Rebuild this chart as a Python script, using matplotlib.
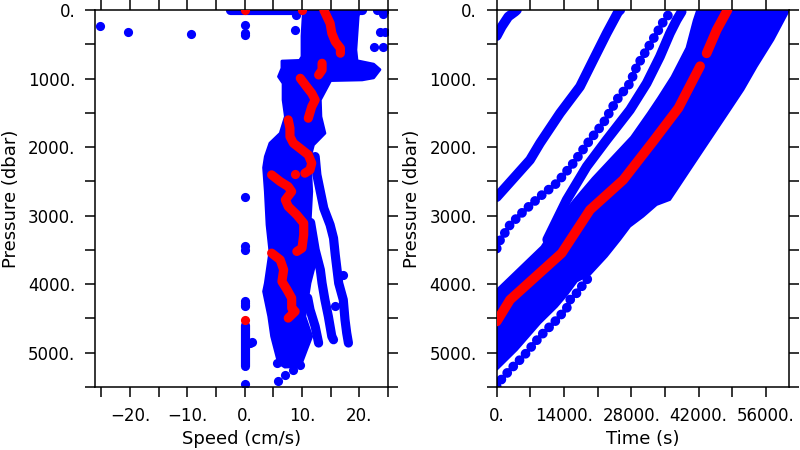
import numpy as np
import matplotlib
matplotlib.use("Agg")
import matplotlib.pyplot as plt
from matplotlib.ticker import MultipleLocator, FuncFormatter

nan = np.nan

# ---------------- left panel: speed vs pressure ----------------
# outline of the dense blue cloud (left edge going down, right edge going up)
cloud_l_spd = [10.3, 10.0, 10.0, 9.6, 6.5, 6.5, 5.9, 6.7, 6.7, 7.1, 6.2, 4.4, 3.6, 3.3,
               3.6, 3.9, 4.4, 3.6, 3.3, 4.2, 4.7, 5.3, 5.9, 7.0]
cloud_l_p = [-60, 380, 680, 735, 745, 850, 972, 1070, 1312, 1555, 1798, 1943, 2138, 2300,
             2649, 3134, 3523, 3985, 4106, 4471, 4762, 4956, 5150, 5210]
cloud_r_spd = [9.7, 10.8, 11.7, 10.5, 11.4, 12.6, 12.6, 11.4, 11.7, 11.4, 12.0, 12.3, 14.0,
               13.3, 13.2, 15.0, 20.5, 22.5, 23.6, 22.5, 19.6, 19.4, 19.6, 19.8, 20.2]
cloud_r_p = [5200, 4956, 4762, 4471, 3985, 3596, 3523, 3134, 2649, 2162, 1968, 1943, 1798,
             1555, 1312, 1030, 1020, 990, 870, 790, 740, 583, 340, 97, -60]

# surface band of points
top_spd = [-2.5, 20.5]
top_p = [0, 0]

# deep streaks to the right of the cloud
streak_a_spd = [12.3, 12.6, 13.2, 13.8, 14.9, 15.5, 15.8, 16.4, 17.2, 17.5, 17.8, 18.1]
streak_a_p = [2138, 2405, 2649, 2892, 3134, 3329, 3572, 3985, 4228, 4519, 4713, 4859]
streak_b_spd = [11.5, 12.3, 13.2, 13.5, 14.0, 14.6, 15.2, 15.5]
streak_b_p = [3100, 3499, 3790, 3985, 4228, 4471, 4762, 4811]
streak_c_spd = [11.0, 11.4, 12.3, 12.9]
streak_c_p = [4200, 4373, 4617, 4859]

# zero-speed column at depth
col0_spd = [0, 0]
col0_p = [4590, 5200]

# isolated points
iso_spd = [-25.2, -20.3, -9.4, 0, 0, 0, 9.0, 8.8, 23.1, 24.4, 24.1, 23.6, 24.4, 22.5, 24.2,
           0, 0, 0, 0, 0, 0, 0, 1.0, 1.2, 0, 5.9, 7.1, 8.5, 9.7, 5.6, 17.2, 15.8]
iso_p = [233, 316, 345, 219, 340, 364, 73, 292, 0, 0, 58, 316, 316, 535, 535,
         2721, 3450, 3499, 4252, 4276, 4300, 4325, 4859, 4850, 5456, 5409, 5331, 5258, 5175,
         5150, 3863, 4325]

# red mean profile (segments separated by nan)
red_spd = [13.8, 14.9, 15.2, 15.8, 16.7, 16.7, nan,
           13.5, 13.5, 12.9, nan,
           9.7, 10.8, 11.7, 12.3, 11.7, 11.1, nan,
           7.6, 7.9, 7.9, 8.5, 10.0, 11.1, 11.7, 11.4, 10.5, nan,
           4.7, 6.2, 7.6, 8.2, 7.1, 7.6, 9.1, 10.3, 10.3, 10.0, 9.1, nan,
           4.7, 6.2, 6.8, 6.5, 7.4, 8.2, 8.2, 8.8, 7.6]
red_p = [0, 194, 340, 461, 558, 631, nan,
         777, 875, 948, nan,
         996, 1118, 1215, 1312, 1410, 1579, nan,
         1603, 1725, 1847, 1943, 2041, 2114, 2235, 2332, 2381, nan,
         2405, 2503, 2576, 2649, 2770, 2867, 2989, 3110, 3280, 3474, 3523, nan,
         3547, 3645, 3790, 3961, 4082, 4203, 4349, 4398, 4495]
red_dot_spd = [0, 10, 0, 8.8]
red_dot_p = [0, 0, 4519, 2395]

# ---------------- right panel: time vs pressure ----------------
mass_t = [0, 9355, 13000, 16000, 20000, 24000, 28000, 31500, 33600, 36400, 39500, 41000, 42000,
          61000, 60630, 57507, 54054, 51272, 48507, 45739, 42952, 40187, 37422, 36029, 33264,
          30479, 27713, 25634, 22869, 19397, 16632, 14553, 12474, 9002, 4158, 0]
mass_p = [4082, 3450, 3050, 2780, 2450, 2150, 1850, 1500, 1280, 972, 550, 150, -60,
          -60, 25, 437, 826, 1166, 1458, 1749, 2041, 2332, 2624, 2770, 2843,
          3013, 3159, 3353, 3596, 3860, 3960, 4160, 4330, 4570, 4960, 5248]

l1_t = [0, 6923, 9002, 13160, 17318, 20083, 22869, 25281, 25700]
l1_p = [2730, 2187, 1943, 1506, 1118, 729, 340, 25, 0]
l2_t = [0, 333, 2765, 5530, 9002, 12474, 15925, 19397, 22162, 24948, 27713, 29106, 31185,
        33264, 34658, 35677, 36300]
l2_p = [3480, 3400, 3134, 2940, 2721, 2527, 2235, 1895, 1652, 1312, 1069, 826, 583,
        340, 170, 73, 0]
l3_t = [10500, 14553, 18711, 22869, 27713, 31185, 33950, 36029, 37422, 38462]
l3_p = [3350, 2770, 2284, 1895, 1458, 1069, 680, 340, 146, 25]
l4_t = [0, 333, 2765, 5530, 9002, 12474, 14553, 15246, 16632, 18711, 19400]
l4_p = [5500, 5442, 5248, 5054, 4762, 4519, 4349, 4228, 4130, 3936, 3888]
l5_t = [0, 1040, 2412, 3805, 4200]
l5_p = [380, 243, 97, 25, 0]

red1_t = [0, 2765, 13513, 19397, 26320, 32500, 37800, 42300]
red1_p = [4544, 4228, 3547, 2916, 2478, 1920, 1430, 820]
red2_t = [43659, 45739, 48000]
red2_p = [632, 292, 0]

blue = (0, 0, 1)
red = (1, 0, 0)

fig = plt.figure(figsize=(8, 4.5), dpi=100)
ax1 = fig.add_axes([0.11875, 0.14, 0.36625, 0.8378])
ax2 = fig.add_axes([0.6209, 0.14, 0.3654, 0.8378])

dot = 6.6
band = 7.0
line_kw = dict(solid_capstyle='round', solid_joinstyle='round')

# left panel
ax1.fill(cloud_l_spd + cloud_r_spd, cloud_l_p + cloud_r_p, color=blue, lw=2, joinstyle='round')
ax1.plot(top_spd, top_p, color=blue, lw=dot, **line_kw)
for s, p in [(streak_a_spd, streak_a_p), (streak_b_spd, streak_b_p),
             (streak_c_spd, streak_c_p), (col0_spd, col0_p)]:
    ax1.plot(s, p, color=blue, lw=dot, **line_kw)
ax1.plot(iso_spd, iso_p, 'o', color=blue, ms=dot, mec='none')
ax1.plot(red_spd, red_p, color=red, lw=dot, zorder=3, **line_kw)
ax1.plot(red_dot_spd, red_dot_p, 'o', color=red, ms=dot, mec='none', zorder=3)
ax1.set_xlim(-26.1, 25.0)

# right panel
ax2.fill(mass_t, mass_p, color=blue, lw=1.5, joinstyle='round')
for t, p in [(l1_t, l1_p), (l3_t, l3_p), (l5_t, l5_p)]:
    ax2.plot(t, p, color=blue, lw=band, **line_kw)
for t, p in [(l2_t, l2_p), (l4_t, l4_p)]:
    ax2.plot(t, p, color=blue, lw=band, linestyle=(0, (0.01, 0.9)), dash_capstyle='round')
ax2.plot(red1_t, red1_p, color=red, lw=band, zorder=3, **line_kw)
ax2.plot(red2_t, red2_p, color=red, lw=band, zorder=3, **line_kw)
ax2.set_xlim(0, 60800)

fmt = FuncFormatter(lambda v, pos: f"{v + 0.0:.0f}.".replace("-", "\u2212"))
for ax, xmaj, xmin, xlab in [(ax1, 10, 5, "Speed (cm/s)"), (ax2, 14000, 7000, "Time (s)")]:
    ax.set_ylim(5500, 0)
    ax.yaxis.set_major_locator(MultipleLocator(1000))
    ax.yaxis.set_minor_locator(MultipleLocator(500))
    ax.xaxis.set_major_locator(MultipleLocator(xmaj))
    ax.xaxis.set_minor_locator(MultipleLocator(xmin))
    ax.xaxis.set_major_formatter(fmt)
    ax.yaxis.set_major_formatter(fmt)
    ax.tick_params(which='both', direction='out', length=7.2, width=1.1,
                   top=True, right=True, labelsize=12, pad=7, colors='black')
    for sp in ax.spines.values():
        sp.set_linewidth(1.1)
    ax.set_xlabel(xlab, fontsize=13, labelpad=4)
    ax.set_ylabel("Pressure (dbar)", fontsize=13, labelpad=6)

fig.savefig("out.png", dpi=100)
